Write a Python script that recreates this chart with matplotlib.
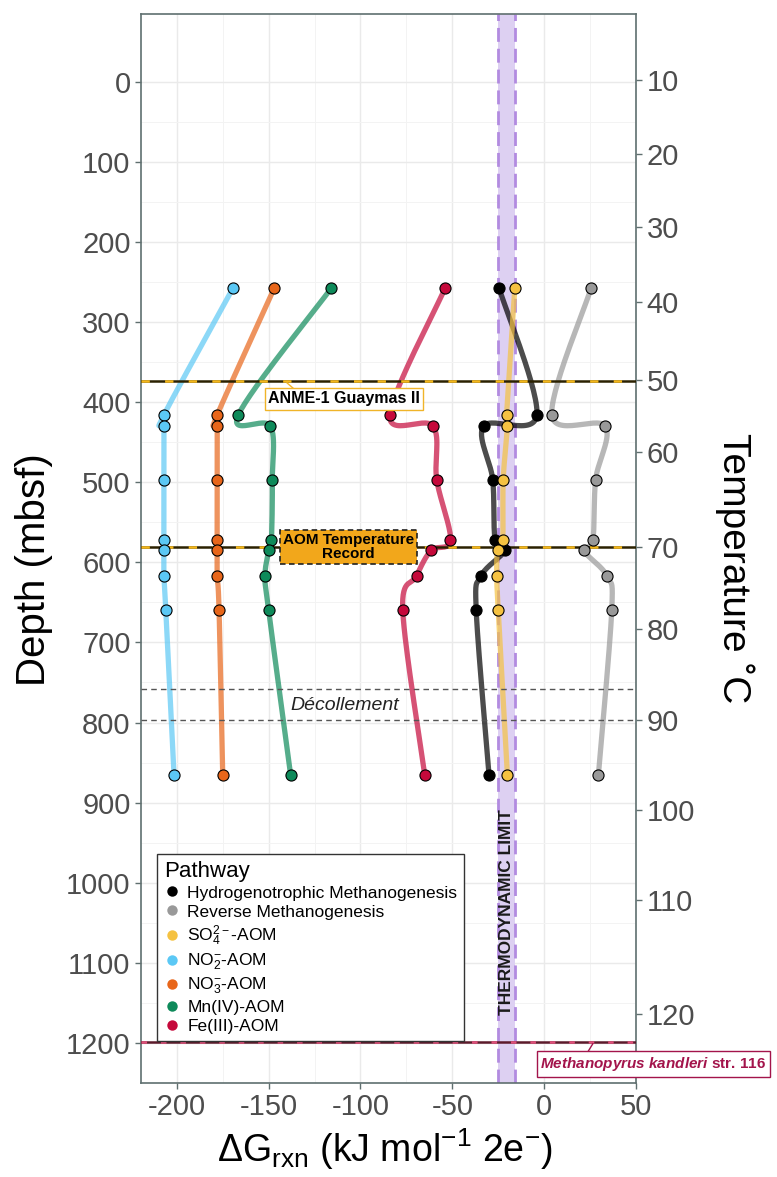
import numpy as np
import matplotlib.pyplot as plt
from matplotlib.lines import Line2D

plt.rcParams['font.family'] = ['Liberation Sans', 'DejaVu Sans']
plt.rcParams['mathtext.fontset'] = 'custom'
plt.rcParams['mathtext.rm'] = 'Liberation Sans'
plt.rcParams['mathtext.it'] = 'Liberation Sans:italic'
plt.rcParams['mathtext.bf'] = 'Liberation Sans:bold'
plt.rcParams['mathtext.bfit'] = 'Liberation Sans:italic:bold'
plt.rcParams['lines.scale_dashes'] = False

# sample depths (mbsf)
depth = [258, 416, 430, 497, 572, 585, 617, 660, 866]

# Gibbs energy per pathway (kJ mol-1 2e-)
dg_hydro = [-24.5, -4, -33, -28, -26.7, -21.3, -34.4, -37, -30]
dg_reverse = [25.5, 4.2, 33.2, 28, 26.5, 21.5, 34.2, 36.8, 29.5]
dg_so4 = [-16, -20.5, -20, -22.3, -22.6, -25.4, -25.8, -25, -20]
dg_no2 = [-169.5, -207, -207, -207, -207, -207, -207, -206, -201.5]
dg_no3 = [-147, -178, -178, -178, -178, -178, -178, -177, -175]
dg_mn = [-116, -166.5, -149, -148, -148.5, -150, -152, -150, -138]
dg_fe = [-54, -84, -60.5, -58.5, -51, -61.5, -69.5, -77, -65]

pathways = ['Hydrogenotrophic Methanogenesis', 'Reverse Methanogenesis',
            r'SO$_4^{2-}$-AOM', r'NO$_2^{-}$-AOM', r'NO$_3^{-}$-AOM',
            'Mn(IV)-AOM', 'Fe(III)-AOM']
series = [dg_hydro, dg_reverse, dg_so4, dg_no2, dg_no3, dg_mn, dg_fe]
colors = ['#000000', '#999999', '#F5C242', '#5BC8F5', '#E8661A', '#0E8A5A', '#C5093B']

# temperature axis (degC) and the depth each value sits at
temp_ticks = [10, 20, 30, 40, 50, 60, 70, 80, 90, 100, 110, 120]
temp_depth = [-2, 90, 182, 275, 372, 462, 581, 683, 797, 909, 1022, 1164]

anme_depth = 374       # ANME-1 Guaymas II (50 C)
aom_depth = 581        # AOM temperature record (70 C)
decollement = [758, 797]
kandleri_depth = 1199  # Methanopyrus kandleri str. 116 (122 C)
thermo_lim = (-25, -16)


def xspline(xv, yv, n=30):
    # Catmull-Rom path through the points, in point order
    p = np.column_stack([xv, yv]).astype(float)
    p = np.vstack([p[0], p, p[-1]])
    t = np.linspace(0, 1, n, endpoint=False)[:, None]
    out = []
    for i in range(1, len(p) - 2):
        p0, p1, p2, p3 = p[i - 1], p[i], p[i + 1], p[i + 2]
        seg = 0.5 * (2 * p1 + (-p0 + p2) * t
                     + (2 * p0 - 5 * p1 + 4 * p2 - p3) * t ** 2
                     + (-p0 + 3 * p1 - 3 * p2 + p3) * t ** 3)
        out.append(seg)
    out.append(p[-2][None])
    out = np.vstack(out)
    return out[:, 0], out[:, 1]


fig = plt.figure(figsize=(7.77, 11.77), dpi=100)
ax = fig.add_axes([141 / 777, 1 - 1083 / 1177, 495 / 777, 1069.4 / 1177])

ax.set_xlim(-219.5, 50)
ax.set_ylim(1243.5, -85)

# grid
ax.set_xticks([-200, -150, -100, -50, 0, 50])
ax.set_xticks([-175, -125, -75, -25, 25], minor=True)
ax.set_yticks(range(0, 1201, 100))
ax.set_yticks(range(50, 1251, 100), minor=True)
ax.grid(which='major', color='#EAEAEA', lw=1.0, zorder=0)
ax.grid(which='minor', color='#F3F3F3', lw=0.7, zorder=0)
ax.set_axisbelow(True)

# thermodynamic limit band
ax.axvspan(*thermo_lim, color='#DDD0F2', lw=0, zorder=1)
for xv in thermo_lim:
    ax.axvline(xv, color='#B28BE0', lw=2, dashes=(10, 5), zorder=1.2)
ax.text(sum(thermo_lim) / 2, 1036, 'THERMODYNAMIC LIMIT', rotation=90,
        ha='center', va='center', fontsize=12.5, fontweight='bold',
        color='#1a1a1a', zorder=6)

# smoothed profiles
for vals, c in zip(series, colors):
    sx, sy = xspline(vals, depth)
    ax.plot(sx, sy, color=c, lw=3.8, alpha=0.7, solid_capstyle='round', zorder=2)

# reference horizons
for d in (anme_depth, aom_depth):
    ax.axhline(d, color='#2B2100', lw=1.8, zorder=3)
    ax.axhline(d, color='#F5B81C', lw=1.8, dashes=(6, 11), zorder=3.1)
for d in decollement:
    ax.axhline(d, color='#555555', lw=1.0, dashes=(4, 3), zorder=3)
ax.axhline(kandleri_depth, color='#5C1A2B', lw=1.8, zorder=3)
ax.axhline(kandleri_depth, color='#E0507A', lw=1.8, dashes=(4, 10), zorder=3.1)

# sample points
for vals, c in zip(series, colors):
    ax.plot(vals, depth, 'o', ms=8, mfc=c, mec='black', mew=0.8, zorder=4)

# labels on the horizons
ax.plot([-140, -135.5], [anme_depth + 2, 385], color='#F0B429', lw=1, zorder=5)
ax.text(-109, 396, 'ANME-1 Guaymas II', ha='center', va='center', fontsize=11.5,
        fontweight='bold', zorder=6,
        bbox=dict(boxstyle='square,pad=0.2', fc='white', ec='#F0B429', lw=1))
ax.text(-106.5, aom_depth, 'AOM Temperature\nRecord', ha='center', va='center',
        fontsize=11, fontweight='bold', linespacing=1.05, zorder=6,
        bbox=dict(boxstyle='square,pad=0.2', fc='#F2A71B', ec='#222222', lw=1.2,
                  ls=(0, (4, 2.5))))
ax.text(-108.5, 779, 'Décollement', ha='center', va='center', fontsize=14,
        style='italic', color='#222222', zorder=6)
ax.plot([26.5, 23], [kandleri_depth + 2, 1214], color='#A3144B', lw=1, zorder=5)
ax.text(-2, 1226, r'$\mathbfit{Methanopyrus\ kandleri}$ str. 116', ha='left',
        va='center', fontsize=11, fontweight='bold', color='#A3144B', zorder=6,
        clip_on=False,
        bbox=dict(boxstyle='square,pad=0.25', fc='white', ec='#A3144B', lw=1))

# axes styling
for s in ax.spines.values():
    s.set_color('#5F6F6F')
    s.set_linewidth(1.2)
ax.tick_params(which='major', labelsize=21, labelcolor='#4D4D4D', color='#5F6F6F',
               length=4, width=1)
ax.tick_params(which='minor', length=0)
ax.set_xticklabels(['-200', '-150', '-100', '-50', '0', '50'])

# temperature axis
ax2 = ax.twinx()
ax2.set_ylim(ax.get_ylim())
ax2.set_yticks(temp_depth)
ax2.set_yticklabels([str(t) for t in temp_ticks])
ax2.tick_params(labelsize=21, labelcolor='#4D4D4D', color='#5F6F6F', length=4, width=1)
for s in ax2.spines.values():
    s.set_visible(False)

# legend
handles = [Line2D([], [], ls='none', marker='o', ms=7.5, mfc=c, mec='none')
           for c in colors]
leg = ax.legend(handles, pathways, title='Pathway', loc='lower left',
                bbox_to_anchor=(0.032, 0.039), fontsize=12.5, title_fontsize=16,
                frameon=True, fancybox=False, framealpha=1, edgecolor='#333333',
                borderpad=0.4, labelspacing=0.22, handletextpad=0.35,
                handlelength=1.0, borderaxespad=0)
leg.get_frame().set_linewidth(1.0)
leg._legend_box.align = 'left'
leg.set_zorder(7)

# axis titles
fig.text(34 / 777, 1 - 570 / 1177, 'Depth (mbsf)', rotation=90, ha='center',
         va='center', fontsize=29)
fig.text(735 / 777, 1 - 568 / 1177, 'Temperature ˚C', rotation=-90, ha='center',
         va='center', fontsize=28)
fig.text(385 / 777, 1 - 1162 / 1177,
         r'ΔG$_{\mathrm{rxn}}$ (kJ mol$^{\mathrm{-1}}$ 2e$^{-}$)', ha='center',
         va='baseline', fontsize=27)

fig.savefig('out.png', dpi=100)
